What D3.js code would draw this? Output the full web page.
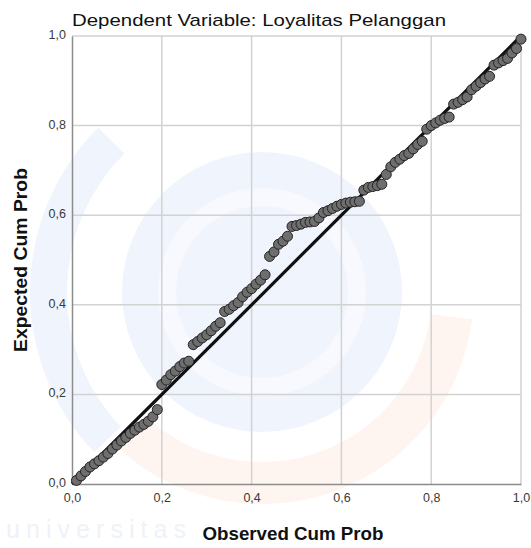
<!DOCTYPE html>
<script src="https://d3js.org/d3.v7.min.js"></script>

<style>
body {margin: 0; background: white;}
svg {font-family: "Liberation Sans", Arial, sans-serif;}
.grid line {stroke: #d2d2d2; stroke-width: 1.5;}
.axis path, .axis line {stroke: #8c8c8c;}
.axis text {fill: #3a3a3a; font-size: 12.5px;}
.pt {fill: #6e6e6e; stroke: #232323; stroke-width: 1;}
</style>

<svg width="531" height="548"></svg>

<script>
// observed cumulative probability (x) and expected cumulative probability (y)
var observed = [
  0.01, 0.02, 0.03, 0.04, 0.05, 0.06, 0.07, 0.08, 0.09, 0.10,
  0.11, 0.12, 0.13, 0.14, 0.15, 0.16, 0.17, 0.18, 0.19, 0.20,
  0.21, 0.22, 0.23, 0.24, 0.25, 0.26, 0.27, 0.28, 0.29, 0.30,
  0.31, 0.32, 0.33, 0.34, 0.35, 0.36, 0.37, 0.38, 0.39, 0.40,
  0.41, 0.42, 0.43, 0.44, 0.45, 0.46, 0.47, 0.48, 0.49, 0.50,
  0.51, 0.52, 0.53, 0.54, 0.55, 0.56, 0.57, 0.58, 0.59, 0.60,
  0.61, 0.62, 0.63, 0.64, 0.65, 0.66, 0.67, 0.68, 0.69, 0.70,
  0.71, 0.72, 0.73, 0.74, 0.75, 0.76, 0.77, 0.78, 0.79, 0.80,
  0.81, 0.82, 0.83, 0.84, 0.85, 0.86, 0.87, 0.88, 0.89, 0.90,
  0.91, 0.92, 0.93, 0.94, 0.95, 0.96, 0.97, 0.98, 0.99, 1.00
];
var expected = [
  0.008, 0.018, 0.028, 0.038, 0.045, 0.052, 0.060, 0.068, 0.078, 0.087,
  0.096, 0.104, 0.113, 0.120, 0.127, 0.133, 0.140, 0.150, 0.166, 0.222,
  0.232, 0.244, 0.252, 0.262, 0.270, 0.274, 0.311, 0.318, 0.326, 0.333,
  0.342, 0.352, 0.360, 0.385, 0.390, 0.398, 0.405, 0.418, 0.428, 0.436,
  0.446, 0.455, 0.467, 0.508, 0.518, 0.535, 0.542, 0.553, 0.575, 0.577,
  0.580, 0.584, 0.585, 0.586, 0.594, 0.606, 0.610, 0.615, 0.620, 0.624,
  0.627, 0.629, 0.630, 0.631, 0.656, 0.662, 0.664, 0.666, 0.669, 0.691,
  0.708, 0.718, 0.725, 0.733, 0.738, 0.748, 0.758, 0.765, 0.792, 0.800,
  0.806, 0.812, 0.816, 0.819, 0.848, 0.852, 0.858, 0.864, 0.880, 0.888,
  0.896, 0.904, 0.910, 0.935, 0.940, 0.945, 0.950, 0.962, 0.972, 0.993
];
var ticks = [0, 0.2, 0.4, 0.6, 0.8, 1.0];

var svg = d3.select("svg");
var x = d3.scaleLinear().domain([0, 1]).range([72, 521]);
var y = d3.scaleLinear().domain([0, 1]).range([484, 36]);
var fmt = function(d) { return d3.format(".1f")(d).replace(".", ","); };

// faint background watermark (logo behind the chart)
var wm = svg.append("g").attr("transform", "translate(262,292)");
wm.append("circle").attr("r", 140).attr("fill", "#f0f4fc");
wm.append("circle").attr("r", 95).attr("fill", "none")
  .attr("stroke", "#f7f9fe").attr("stroke-width", 18);
wm.append("path")
  .attr("d", d3.arc()({innerRadius: 170, outerRadius: 212, startAngle: 1.7, endAngle: 3.9}))
  .attr("fill", "#fef5f0");
wm.append("path")
  .attr("d", d3.arc()({innerRadius: 195, outerRadius: 232, startAngle: 3.95, endAngle: 5.5}))
  .attr("fill", "#f0f4fc");
svg.append("text").attr("x", 6).attr("y", 538).attr("font-size", "25px")
  .attr("textLength", 180).attr("lengthAdjust", "spacing")
  .attr("fill", "#eef2f9").text("universitas");

// gridlines
var grid = svg.append("g").attr("class", "grid");
grid.selectAll(".gx").data(ticks.slice(1)).enter().append("line")
  .attr("x1", function(d) { return x(d); }).attr("x2", function(d) { return x(d); })
  .attr("y1", y(1)).attr("y2", y(0));
grid.selectAll(".gy").data(ticks.slice(1)).enter().append("line")
  .attr("y1", function(d) { return y(d); }).attr("y2", function(d) { return y(d); })
  .attr("x1", x(0)).attr("x2", x(1));

// axes
svg.append("g").attr("class", "axis")
  .attr("transform", "translate(0," + y(0) + ")")
  .call(d3.axisBottom(x).tickValues(ticks).tickFormat(fmt).tickSize(0).tickPadding(9))
  .call(function(g) { g.select(".domain").attr("stroke-width", 1.5); });
svg.append("g").attr("class", "axis")
  .attr("transform", "translate(" + x(0) + ",0)")
  .call(d3.axisLeft(y).tickValues(ticks).tickFormat(fmt).tickSize(0).tickPadding(6))
  .call(function(g) {
    g.select(".domain").attr("stroke-width", 1.5);
    g.selectAll("text").attr("dy", "0.2em");
  });

// reference line
svg.append("line")
  .attr("x1", x(0)).attr("y1", y(0)).attr("x2", x(1)).attr("y2", y(1))
  .attr("stroke", "#111").attr("stroke-width", 3.2);

// points
svg.append("g").selectAll("circle").data(observed).enter().append("circle")
  .attr("class", "pt")
  .attr("cx", function(d) { return x(d); })
  .attr("cy", function(d, i) { return y(expected[i]); })
  .attr("r", 5);

// titles
svg.append("text").attr("x", 259).attr("y", 26).attr("text-anchor", "middle")
  .attr("font-size", "17px").attr("fill", "#111")
  .attr("textLength", 374).attr("lengthAdjust", "spacingAndGlyphs")
  .text("Dependent Variable: Loyalitas Pelanggan");
svg.append("text").attr("x", 293).attr("y", 540).attr("text-anchor", "middle")
  .attr("font-size", "18.5px").attr("font-weight", "bold").attr("fill", "#111")
  .attr("textLength", 181).attr("lengthAdjust", "spacingAndGlyphs")
  .text("Observed Cum Prob");
svg.append("text").attr("transform", "translate(27,260) rotate(-90)")
  .attr("text-anchor", "middle")
  .attr("font-size", "18.5px").attr("font-weight", "bold").attr("fill", "#111")
  .attr("textLength", 184).attr("lengthAdjust", "spacingAndGlyphs")
  .text("Expected Cum Prob");
</script>
